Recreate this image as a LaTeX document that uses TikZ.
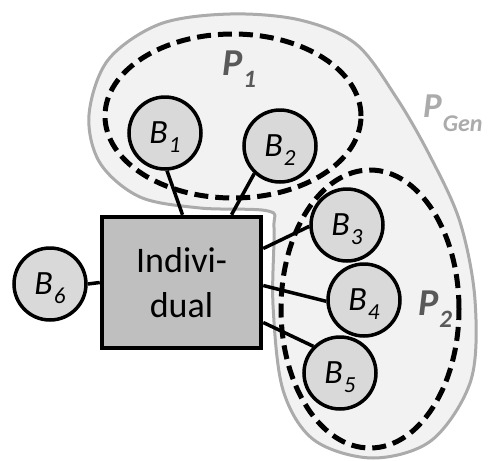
\documentclass[tikz,border=0pt]{standalone}
\usepackage{fontspec}
\setmainfont{Carlito}
\definecolor{genline}{HTML}{ABABAB}
\definecolor{genfill}{HTML}{F2F2F2}
\definecolor{bfill}{HTML}{D9D9D9}
\definecolor{boxfill}{HTML}{BFBFBF}
\definecolor{plab}{HTML}{595959}
\newcommand{\Blab}[1]{\fontsize{34}{34}\selectfont\itshape B\kern1pt\raisebox{-9pt}{\fontsize{23}{23}\selectfont #1}}
\newcommand{\Plab}[1]{\fontsize{38}{38}\selectfont\bfseries\itshape P\kern1pt\raisebox{-12pt}{\fontsize{25}{25}\selectfont #1}}
\tikzset{
  bnode/.style={circle, draw=black, line width=3.5pt, fill=bfill, minimum size=72pt, inner sep=0pt, text depth=0pt},
  conn/.style={line width=3.5pt},
  pset/.style={dashed, dash pattern=on 14pt off 7pt, line width=5pt, fill=genfill},
  plabel/.style={text=plab, inner sep=0pt, anchor=base west}
}
\begin{document}
\begin{tikzpicture}[x=1pt,y=-1pt]
\useasboundingbox (0,0) rectangle (488,461);
% P_Gen outline
\draw[genline, line width=3pt, fill=genfill]
  plot[smooth cycle, tension=0.55] coordinates {
  (268,211) (200,208) (140,197) (100,163) (89,115) (108,60) (160,24) (230,14)
  (300,20) (356,44) (396,97) (430,156) (460,222) (475,300) (471,380)
  (432,440) (373,458) (314,440) (283,390) (273,305) (274,228)};
% P1 and P2
\draw[pset] (233,116) ellipse [x radius=128pt, y radius=82pt];
\draw[pset] (370,309) ellipse [x radius=89pt, y radius=139pt];
% individual
\node[draw=black, line width=4.5pt, fill=boxfill, minimum width=159pt, minimum height=131pt,
  inner sep=0pt, align=center, font=\fontsize{36}{45}\selectfont] (ind) at (181.5,282.5) {Indivi-\\dual};
% B nodes
\node[bnode] (b1) at (165,133) {\Blab{1}};
\node[bnode] (b2) at (280,146) {\Blab{2}};
\node[bnode] (b3) at (347,225) {\Blab{3}};
\node[bnode] (b4) at (364,300) {\Blab{4}};
\node[bnode] (b5) at (340,373) {\Blab{5}};
\node[bnode] (b6) at (50,284) {\Blab{6}};
% connectors
\draw[conn] (b1.273) -- ([xshift=1pt]ind.north);
\draw[conn] (b2.227) -- ([xshift=50pt]ind.north);
\draw[conn] ([yshift=34pt]ind.east) -- (b3.182);
\draw[conn] ([yshift=-3pt]ind.east) -- (b4.182);
\draw[conn] ([yshift=-40pt]ind.east) -- (b5.135);
\draw[conn] (b6.east) -- (ind.west);
% labels
\node[plabel] (p1) at (222,75) {\Plab{1}};
\node[plabel] (p2) at (418,315) {\Plab{2}};
\node[plabel, text=genline] (pg) at (423,117) {\fontsize{35}{35}\selectfont\bfseries\itshape P\kern1pt\raisebox{-14pt}{\fontsize{24}{24}\selectfont Gen}};
\end{tikzpicture}
\end{document}
